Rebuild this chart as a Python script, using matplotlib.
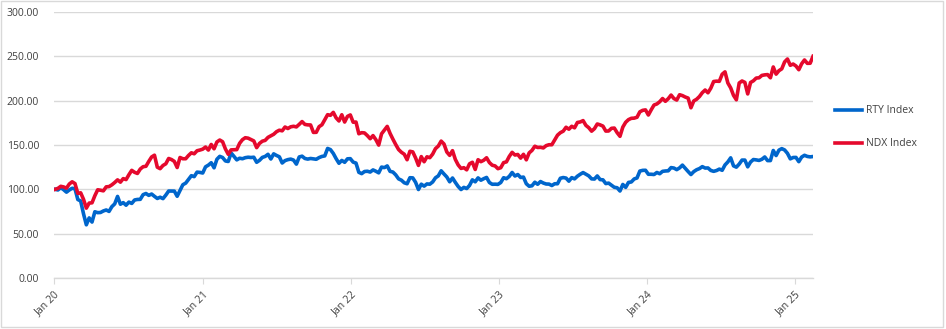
import matplotlib
matplotlib.use("Agg")
import matplotlib.pyplot as plt
from matplotlib.lines import Line2D
from matplotlib.patches import Rectangle
import pandas as pd

# Weekly index levels rebased to 100 at the start of 2020
ndx_2020 = [100.0, 101.1, 103.4, 102.7, 101.3, 106.0, 108.5, 106.5, 95.4, 96.1, 88.8, 78.8, 84.5,
            84.8, 92.8, 99.5, 99.0, 98.3, 102.8, 103.1, 105.1, 107.7, 110.7, 108.1, 112.1, 111.0,
            116.5, 121.4, 119.2, 117.9, 122.9, 125.5, 126.0, 131.5, 136.5, 138.5, 125.0, 123.3,
            126.9, 128.8, 134.8, 133.6, 131.5, 124.6, 135.9, 134.5, 134.5, 138.2, 141.2, 140.1,
            143.5, 144.3, 145.3]
ndx_2021 = [147.7, 144.3, 150.6, 145.7, 153.4, 155.6, 153.7, 145.5, 139.5, 144.5, 144.6, 144.8,
            151.9, 156.0, 158.2, 157.7, 156.2, 154.6, 147.0, 151.8, 154.3, 155.2, 158.6, 160.3,
            162.1, 165.0, 166.7, 166.0, 170.3, 168.6, 170.5, 171.1, 170.4, 173.3, 176.4, 173.2,
            172.7, 172.6, 164.2, 164.3, 170.7, 172.8, 178.6, 184.2, 183.5, 186.8, 180.6, 177.1,
            184.1, 175.9, 182.3, 183.9]
ndx_2022 = [175.7, 175.9, 162.7, 163.9, 163.6, 160.6, 157.1, 160.6, 156.0, 149.9, 162.6, 166.9,
            171.0, 163.1, 156.6, 150.5, 144.9, 141.8, 139.6, 133.4, 142.9, 142.2, 135.4, 127.0,
            136.9, 131.1, 136.7, 135.7, 139.7, 145.9, 148.8, 154.4, 151.1, 142.1, 138.3, 143.6,
            133.7, 127.5, 123.6, 124.4, 122.0, 128.8, 130.5, 122.4, 133.4, 131.2, 132.8, 135.6,
            130.2, 127.2, 126.4, 123.3]
ndx_2023 = [124.4, 130.1, 131.0, 137.1, 141.7, 138.7, 139.3, 135.2, 139.5, 133.3, 141.1, 143.9,
            148.6, 147.2, 147.4, 146.7, 149.3, 150.3, 150.3, 155.7, 161.1, 163.9, 165.6, 170.0,
            167.8, 171.1, 169.4, 175.4, 176.0, 177.5, 172.1, 169.5, 165.6, 168.4, 173.7, 172.7,
            171.3, 165.7, 165.8, 168.8, 169.1, 163.9, 159.8, 170.2, 175.6, 178.6, 180.1, 180.3,
            181.3, 187.4, 189.1, 189.6]
ndx_2024 = [183.8, 189.7, 195.1, 196.3, 198.8, 202.4, 199.3, 202.2, 206.3, 202.4, 200.7, 206.7,
            205.7, 204.1, 202.9, 192.0, 199.7, 201.6, 204.7, 209.0, 212.0, 208.9, 214.1, 221.6,
            222.0, 221.8, 229.8, 232.5, 220.0, 214.4, 206.0, 201.0, 219.9, 222.2, 220.6, 207.6,
            220.5, 222.4, 225.5, 225.8, 228.5, 229.1, 229.4, 225.8, 238.0, 229.9, 233.8, 235.9,
            243.7, 247.0, 239.9, 241.3]
ndx_2025 = [239.1, 234.9, 241.6, 245.9, 242.1, 242.2, 250.0]

rty_2020 = [100.0, 99.3, 101.9, 99.6, 96.8, 99.3, 101.2, 100.7, 88.5, 86.9, 72.5, 60.0, 67.8,
            63.1, 74.7, 73.7, 73.9, 75.6, 76.7, 75.1, 80.5, 83.6, 92.0, 83.2, 85.0, 82.1, 85.6,
            84.1, 88.0, 88.6, 88.7, 94.0, 95.3, 93.2, 94.7, 92.1, 89.7, 91.1, 89.5, 93.5, 98.1,
            98.0, 98.0, 92.2, 98.6, 105.2, 107.0, 111.2, 115.4, 114.3, 119.4, 119.1, 118.4]
rty_2021 = [125.4, 127.3, 130.0, 124.3, 133.9, 137.2, 135.9, 132.0, 131.4, 141.0, 137.2, 133.2,
            135.1, 134.5, 135.7, 136.2, 135.9, 136.2, 130.5, 132.7, 136.0, 137.1, 139.5, 134.2,
            140.0, 138.2, 136.7, 129.7, 132.4, 133.5, 134.1, 133.0, 128.4, 136.5, 137.4, 134.8,
            134.1, 134.8, 134.4, 133.9, 135.8, 137.1, 137.7, 146.1, 144.8, 140.5, 134.6, 129.4,
            132.6, 130.5, 134.4, 134.6]
rty_2022 = [130.7, 129.6, 119.2, 117.7, 120.1, 120.4, 119.5, 121.9, 120.4, 118.6, 125.1, 124.5,
            126.4, 120.3, 119.5, 116.3, 111.8, 110.3, 107.4, 106.3, 113.1, 112.9, 107.9, 99.8,
            105.8, 103.6, 106.1, 105.8, 108.3, 113.0, 115.2, 120.9, 117.3, 113.9, 108.5, 112.8,
            107.8, 103.2, 99.8, 102.2, 100.9, 104.4, 110.7, 108.5, 112.9, 110.3, 112.0, 113.4,
            107.7, 105.7, 105.8, 105.6]
rty_2023 = [107.7, 113.1, 112.0, 114.6, 119.0, 115.0, 116.7, 113.4, 113.8, 106.3, 103.5, 104.0,
            108.0, 105.7, 108.8, 107.1, 106.0, 105.9, 104.3, 106.3, 106.3, 112.5, 113.3, 112.7,
            109.2, 113.2, 111.8, 114.8, 117.0, 118.9, 117.1, 115.2, 111.8, 111.6, 115.1, 111.0,
            110.7, 106.5, 107.0, 104.6, 102.3, 101.8, 98.1, 105.5, 102.2, 107.8, 108.3, 111.7,
            112.8, 120.6, 121.4, 121.5]
rty_2024 = [117.0, 117.0, 116.7, 119.0, 117.6, 120.3, 120.7, 120.9, 124.5, 124.0, 122.2, 124.2,
            127.3, 123.7, 120.1, 116.7, 120.0, 122.1, 123.4, 125.6, 124.0, 124.1, 121.3, 120.3,
            121.2, 122.8, 121.5, 127.5, 130.9, 135.5, 126.5, 125.0, 128.5, 133.0, 133.0, 125.4,
            130.8, 133.6, 133.2, 132.6, 133.9, 136.5, 132.4, 132.4, 143.8, 138.1, 144.2, 145.9,
            144.4, 140.6, 134.4, 135.9]
rty_2025 = [136.0, 131.2, 136.4, 138.4, 137.1, 136.6, 137.0]

# first weekly observation of each year
year_starts = ["2020-01-03", "2021-01-08", "2022-01-07", "2023-01-06", "2024-01-05", "2025-01-03"]
tick_years = [2020, 2021, 2022, 2023, 2024, 2025]
tick_labels = ["Jan 20", "Jan 21", "Jan 22", "Jan 23", "Jan 24", "Jan 25"]
y_ticks = [0, 50, 100, 150, 200, 250, 300]


def build_series(chunks):
    parts = []
    for start, vals in zip(year_starts, chunks):
        idx = pd.date_range(start, periods=len(vals), freq="7D")
        parts.append(pd.Series(vals, index=idx))
    return pd.concat(parts)


ndx = build_series([ndx_2020, ndx_2021, ndx_2022, ndx_2023, ndx_2024, ndx_2025])
rty = build_series([rty_2020, rty_2021, rty_2022, rty_2023, rty_2024, rty_2025])

blue = "#0066CC"
red = "#E5092D"
grid_col = "#D9D9D9"
text_col = "#404040"

plt.rcParams["font.family"] = ["Open Sans", "DejaVu Sans"]

fig = plt.figure(figsize=(9.46, 3.29), dpi=100)
ax = fig.add_axes([54.3 / 946, 1 - 278 / 329, (813 - 54.3) / 946, (278 - 12) / 329])

ax.plot(rty.index, rty.values, color=blue, lw=2.6, solid_joinstyle="round")
ax.plot(ndx.index, ndx.values, color=red, lw=2.6, solid_joinstyle="round")

ax.set_ylim(0, 300)
ax.set_yticks(y_ticks)
ax.set_yticklabels([f"{v:.2f}" for v in y_ticks])
ax.set_xlim(pd.Timestamp("2020-01-01"), ndx.index[-1])
ax.set_xticks([pd.Timestamp(f"{y}-01-01") for y in tick_years])
ax.set_xticklabels(tick_labels, rotation=45, ha="right", rotation_mode="anchor")

ax.yaxis.grid(True, color=grid_col, lw=1)
ax.set_axisbelow(True)
for side in ["top", "right", "left"]:
    ax.spines[side].set_visible(False)
ax.spines["bottom"].set_color(grid_col)
ax.spines["bottom"].set_linewidth(1)

ax.tick_params(axis="y", length=0, pad=11, labelsize=7.5, labelcolor=text_col)
ax.tick_params(axis="x", length=4, color=grid_col, pad=4, labelsize=7.5, labelcolor=text_col)

handles = [Line2D([], [], color=blue, lw=2.6), Line2D([], [], color=red, lw=2.6)]
fig.legend(handles, ["RTY Index", "NDX Index"], loc="upper left",
           bbox_to_anchor=(826 / 946, 1 - 96 / 329), frameon=False, fontsize=7.5,
           handlelength=2.6, handletextpad=0.3, labelspacing=2.1, labelcolor=text_col)

fig.add_artist(Rectangle((1 / 946, 2 / 329), 942 / 946, 326 / 329, transform=fig.transFigure,
                         fill=False, edgecolor=grid_col, lw=1))

fig.savefig("out.png", dpi=100)
